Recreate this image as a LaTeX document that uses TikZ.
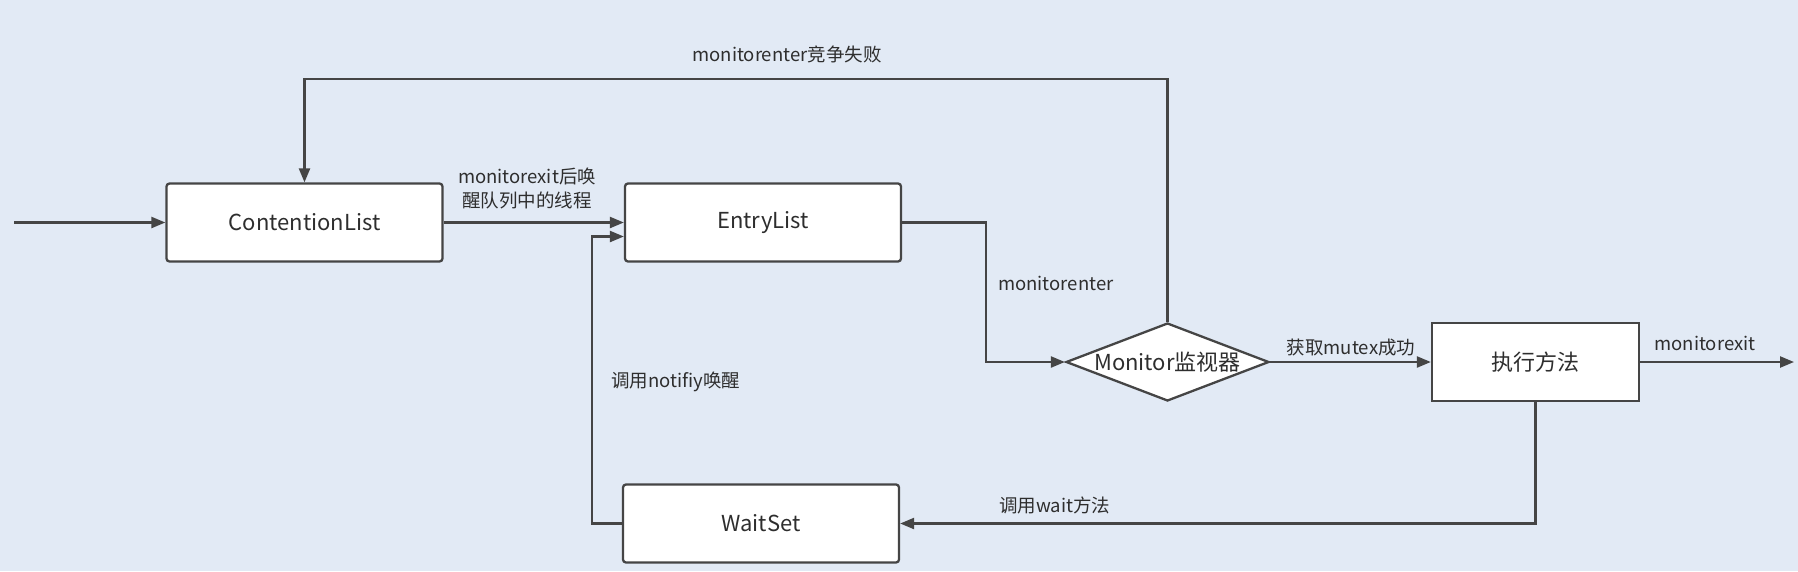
\documentclass[tikz,border=0pt]{standalone}
\usepackage{fontspec}
\setmainfont{Noto Sans CJK SC}
\usetikzlibrary{shapes.geometric,arrows.meta,calc}
\definecolor{bgc}{HTML}{E2EAF5}
\definecolor{linec}{HTML}{454545}
\definecolor{txtc}{HTML}{2E2E2E}
\begin{document}
\begin{tikzpicture}[x=1pt,y=-1pt,
  box/.style={draw=linec,line width=2.3pt,fill=white,rounded corners=3pt,inner sep=0pt,
    minimum width=276pt,minimum height=78pt,font=\fontsize{22}{24}\selectfont,text=txtc},
  sqbox/.style={box,rounded corners=0pt,minimum width=207pt},
  lbl/.style={font=\fontsize{18.5}{24}\selectfont,text=txtc,inner sep=0pt},
  conn/.style={draw=linec,line width=2.3pt,-{Triangle[length=14pt,width=11pt]}},
]
\fill[bgc] (0,0) rectangle (1798,571);
\useasboundingbox (0,0) rectangle (1798,571);

\node[box] (cl) at (304.5,222.5) {ContentionList};
\node[box] (el) at (763,222.5) {EntryList};
\node[box] (ws) at (761,523.5) {WaitSet};
\node[diamond,draw=linec,line width=2.3pt,fill=white,inner sep=0pt,
  minimum width=203pt,minimum height=78pt,shape aspect=2.6] (mon) at (1167.5,362) {};
\node[font=\fontsize{22}{24}\selectfont,text=txtc,inner sep=0pt] (monlbl) at (mon) {Monitor监视器};
\node[sqbox] (exe) at (1535.5,362) {执行方法};

\coordinate (start) at (14,222.5);
\coordinate (finish) at (1794,362);
\coordinate (topright) at (1167.5,79);

\draw[conn] (start) -- (cl);
\draw[conn] (cl) -- (el);
\draw[conn] (el.east) -- ++(84,0) |- (mon.west);
\draw[conn] (mon.north) -- (topright) -| (cl.north);
\draw[conn] (mon.east) -- (exe.west);
\draw[conn] (exe.east) -- (finish);
\draw[conn] (exe.south) |- (ws.east);
\draw[conn] (ws.west) -- ++(-30,0) |- ($(el.west)+(0,14)$);

\node[lbl] (l1) at (787,54) {monitorenter竞争失败};
\node[lbl,align=center] (l2) at (527,188) {monitorexit后唤\\醒队列中的线程};
\node[lbl,anchor=west] (l3) at (998,283) {monitorenter};
\node[lbl,anchor=west] (l4) at (611,382) {调用notifiy唤醒};
\node[lbl] (l5) at (1351,348) {获取mutex成功};
\node[lbl] (l6) at (1705,343) {monitorexit};
\node[lbl,anchor=west] (l7) at (999,505) {调用wait方法};
\end{tikzpicture}
\end{document}
